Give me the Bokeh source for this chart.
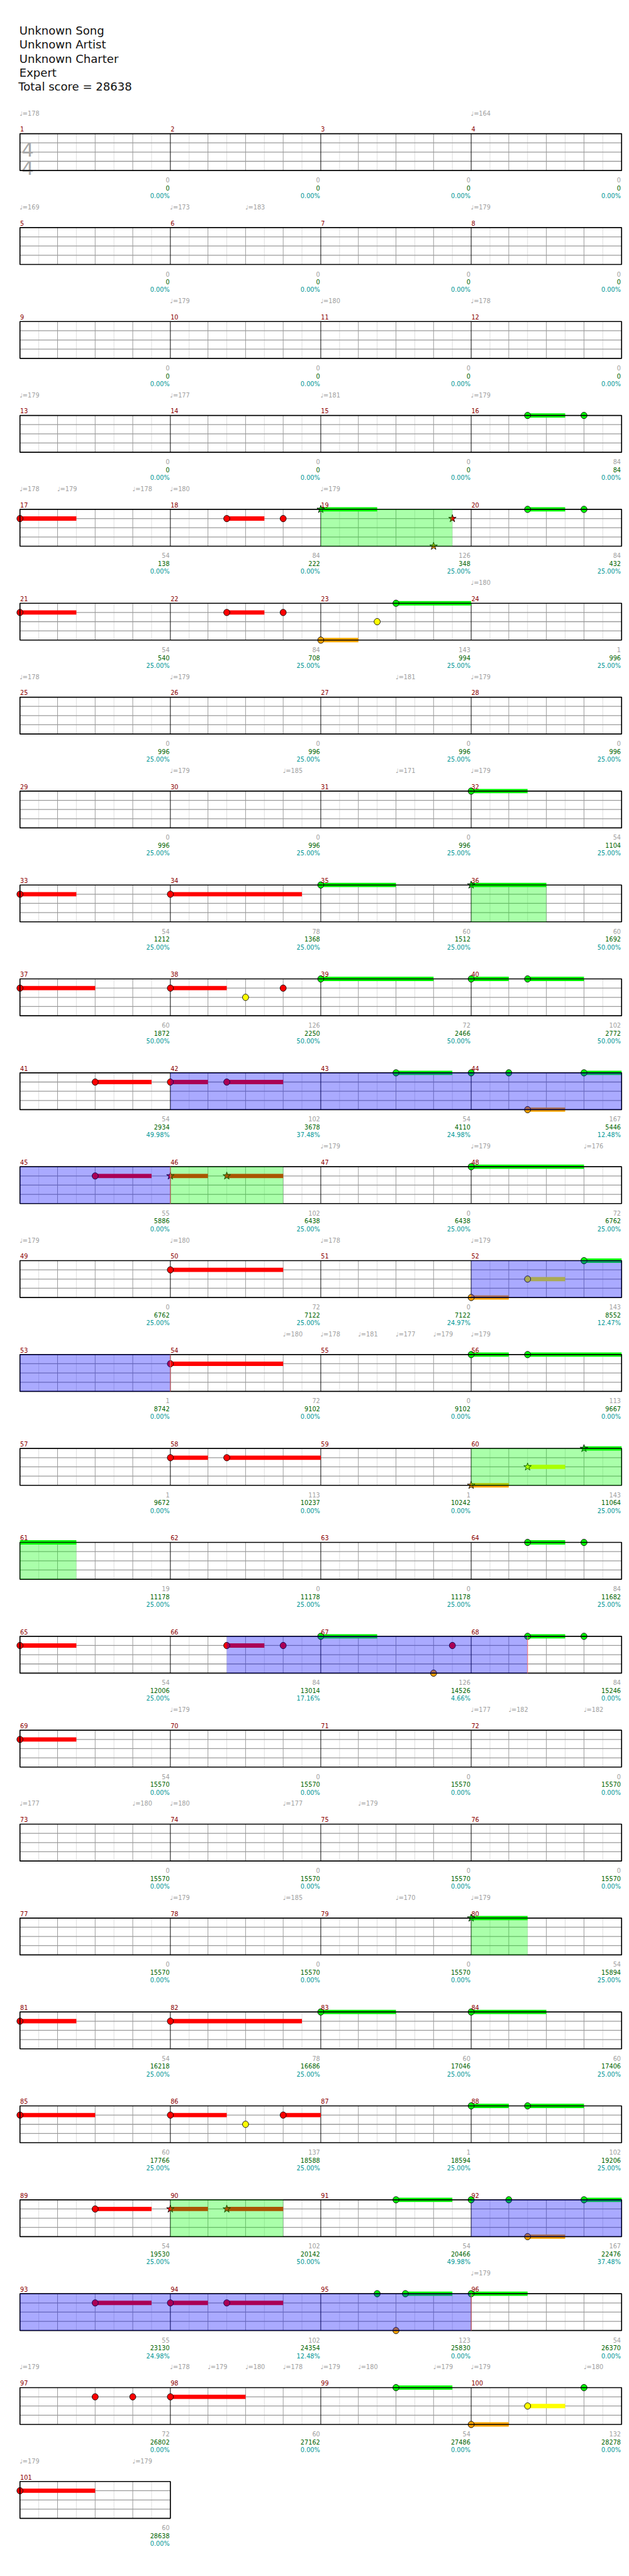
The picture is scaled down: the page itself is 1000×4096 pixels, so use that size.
import numpy as np
from bokeh.plotting import figure
from bokeh.models import ColumnDataSource, Range1d
from bokeh.core.properties import value
from bokeh.embed import file_html
from bokeh.resources import INLINE

S = 0.976  # scale factor vs. reference

# ---------------- data ----------------
title_lines = ["Unknown Song", "Unknown Artist", "Unknown Charter", "Expert",
               "Total score = 28638"]
n_measures = 101

measure_score = [
    0, 0, 0, 0,   0, 0, 0, 0,   0, 0, 0, 0,   0, 0, 0, 84,
    54, 84, 126, 84,   54, 84, 143, 1,   0, 0, 0, 0,   0, 0, 0, 54,
    54, 78, 60, 60,   60, 126, 72, 102,   54, 102, 54, 167,   55, 102, 0, 72,
    0, 72, 0, 143,   1, 72, 0, 113,   1, 113, 1, 143,   19, 0, 0, 84,
    54, 84, 126, 84,   54, 0, 0, 0,   0, 0, 0, 0,   0, 0, 0, 54,
    54, 78, 60, 60,   60, 137, 1, 102,   54, 102, 54, 167,   55, 102, 123, 54,
    72, 60, 54, 132,   60]

cumulative = [
    0, 0, 0, 0,   0, 0, 0, 0,   0, 0, 0, 0,   0, 0, 0, 84,
    138, 222, 348, 432,   540, 708, 994, 996,   996, 996, 996, 996,
    996, 996, 996, 1104,   1212, 1368, 1512, 1692,   1872, 2250, 2466, 2772,
    2934, 3678, 4110, 5446,   5886, 6438, 6438, 6762,   6762, 7122, 7122, 8552,
    8742, 9102, 9102, 9667,   9672, 10237, 10242, 11064,   11178, 11178, 11178, 11682,
    12006, 13014, 14526, 15246,   15570, 15570, 15570, 15570,
    15570, 15570, 15570, 15570,   15570, 15570, 15570, 15894,
    16218, 16686, 17046, 17406,   17766, 18588, 18594, 19206,
    19530, 20142, 20466, 22476,   23130, 24354, 25830, 26370,
    26802, 27162, 27486, 28278,   28638]

percent = [
    0, 0, 0, 0,   0, 0, 0, 0,   0, 0, 0, 0,   0, 0, 0, 0,
    0, 0, 25, 25,   25, 25, 25, 25,   25, 25, 25, 25,   25, 25, 25, 25,
    25, 25, 25, 50,   50, 50, 50, 50,   49.98, 37.48, 24.98, 12.48,
    0, 25, 25, 25,   25, 25, 24.97, 12.47,   0, 0, 0, 0,   0, 0, 0, 25,
    25, 25, 25, 25,   25, 17.16, 4.66, 0,   0, 0, 0, 0,   0, 0, 0, 0,
    0, 0, 0, 25,   25, 25, 25, 25,   25, 25, 25, 25,   25, 50, 49.98, 37.48,
    24.98, 12.48, 0, 0,   0, 0, 0, 0,   0]

# tempo markers: measure, eighth within measure, bpm
tempo_measure = [1, 4, 5, 6, 6, 8, 10, 11, 12, 13, 14, 15, 16,
                 17, 17, 17, 18, 19, 24, 25, 26, 27, 28, 30, 30, 31, 32,
                 47, 48, 48, 49, 50, 51, 52, 54, 55, 55, 55, 55, 56,
                 70, 72, 72, 72, 73, 73, 74, 74, 75, 78, 78, 79, 80, 96,
                 97, 98, 98, 98, 98, 99, 99, 99, 100, 100, 101, 101]
tempo_eighth = [0, 0, 0, 0, 4, 0, 0, 0, 0, 0, 0, 0, 0,
                0, 2, 6, 0, 0, 0, 0, 0, 4, 0, 0, 6, 4, 0,
                0, 0, 6, 0, 0, 0, 0, 6, 0, 2, 4, 6, 0,
                0, 0, 2, 6, 0, 6, 0, 6, 2, 0, 6, 4, 0, 0,
                0, 0, 2, 4, 6, 0, 2, 6, 0, 6, 0, 6]
tempo_bpm = [178, 164, 169, 173, 183, 179, 179, 180, 178, 179, 177, 181, 179,
             178, 179, 178, 180, 179, 180, 178, 179, 181, 179, 179, 185, 171, 179,
             179, 179, 176, 179, 180, 178, 179, 180, 178, 181, 177, 179, 179,
             179, 177, 182, 182, 177, 180, 180, 177, 179, 179, 185, 170, 179, 179,
             179, 178, 179, 180, 178, 179, 180, 179, 179, 180, 179, 179]

# notes: measure, eighth offset, lane (G R Y B O), sustain length (eighths), star note
note_measure = [16, 16, 17, 18, 18, 19, 19, 19, 20, 20,
                21, 22, 22, 23, 23, 23, 32, 33, 34, 35, 36,
                37, 38, 38, 38, 39, 40, 40, 41, 42, 42, 43, 44, 44, 44, 44,
                45, 46, 46, 48, 50, 52, 52, 52, 54, 56, 56, 58, 58, 60, 60, 60,
                64, 64, 65, 66, 66, 67, 67, 67, 68, 68, 69, 80,
                81, 82, 83, 84, 85, 86, 86, 86, 88, 88,
                89, 90, 90, 91, 92, 92, 92, 92, 93, 94, 94, 95, 95, 95, 96,
                97, 97, 98, 99, 100, 100, 100, 101]
note_eighth = [3, 6, 0, 3, 6, 0, 7, 6, 3, 6,
               0, 3, 6, 0, 3, 4, 0, 0, 0, 0, 0,
               0, 0, 4, 6, 0, 0, 3, 4, 0, 3, 4, 0, 2, 3, 6,
               4, 0, 3, 0, 0, 0, 3, 6, 0, 0, 3, 0, 3, 0, 3, 6,
               3, 6, 0, 3, 6, 0, 7, 6, 3, 6, 0, 0,
               0, 0, 0, 0, 0, 0, 4, 6, 0, 3,
               4, 0, 3, 4, 0, 2, 3, 6, 4, 0, 3, 3, 4.5, 4, 0,
               4, 6, 0, 4, 0, 3, 6, 0]
note_lane = ["G", "G", "R", "R", "R", "G", "R", "O", "G", "G",
             "R", "R", "R", "O", "Y", "G", "G", "R", "R", "G", "G",
             "R", "R", "Y", "R", "G", "G", "G", "R", "R", "R", "G", "G", "G", "O", "G",
             "R", "R", "R", "G", "R", "O", "Y", "G", "R", "G", "G", "R", "R", "O", "Y", "G",
             "G", "G", "R", "R", "R", "G", "R", "O", "G", "G", "R", "G",
             "R", "R", "G", "G", "R", "R", "Y", "R", "G", "G",
             "R", "R", "R", "G", "G", "G", "O", "G", "R", "R", "R", "G", "G", "O", "G",
             "R", "R", "R", "G", "O", "Y", "G", "R"]
note_len = [2, 0, 3, 2, 0, 3, 0, 0, 2, 0,
            3, 2, 0, 2, 0, 4, 3, 3, 7, 4, 4,
            4, 3, 0, 0, 6, 2, 3, 3, 2, 3, 3, 0, 0, 2, 2,
            3, 2, 3, 6, 6, 2, 2, 2, 6, 2, 5, 2, 5, 2, 2, 5,
            2, 0, 3, 2, 0, 3, 0, 0, 2, 0, 3, 3,
            3, 7, 4, 4, 4, 3, 0, 2, 2, 3,
            3, 2, 3, 3, 0, 0, 2, 2, 3, 2, 3, 0, 2.5, 0, 3,
            0, 0, 4, 3, 2, 2, 0, 4]
note_star = [0, 0, 0, 0, 0, 1, 1, 1, 0, 0,
             0, 0, 0, 0, 0, 0, 0, 0, 0, 0, 1,
             0, 0, 0, 0, 0, 0, 0, 0, 0, 0, 0, 0, 0, 0, 0,
             0, 1, 1, 0, 0, 0, 0, 0, 0, 0, 0, 0, 0, 1, 1, 1,
             0, 0, 0, 0, 0, 0, 0, 0, 0, 0, 0, 1,
             0, 0, 0, 0, 0, 0, 0, 0, 0, 0,
             0, 1, 1, 0, 0, 0, 0, 0, 0, 0, 0, 0, 0, 0, 0,
             0, 0, 0, 0, 0, 0, 0, 0]

# star power phrases (green) and activations (blue): start measure, start eighth, end measure, end eighth
sp_phrase_start = [(19, 0), (36, 0), (46, 0), (60, 0), (80, 0), (90, 0)]
sp_phrase_end = [(19, 7), (36, 4), (46, 6), (61, 3), (80, 3), (90, 6)]
sp_active_start = [(42, 0), (52, 0), (66, 3), (92, 0)]
sp_active_end = [(46, 0), (54, 0), (68, 3), (96, 0)]

lane_names = ["G", "R", "Y", "B", "O"]
lane_colors = {"G": "#00ff00", "R": "#ff0000", "Y": "#ffff00",
               "B": "#0000ff", "O": "#ffa500"}

# ---------------- layout (reference px) ----------------
X0 = 32.0
MEAS_W = 245.0
EW = MEAS_W / 8.0
PER_ROW = 4
TOP0 = 217.3
ROW_H = 153.0
LANE = 15.0
STAFF_H = 4 * LANE
n_rows = (n_measures + PER_ROW - 1) // PER_ROW
ROW_E = 8 * PER_ROW


def abs_e(m, e):
    return (m - 1) * 8 + e


def row_top(r):
    return TOP0 + r * ROW_H


def xpos(a):
    r = int(a // ROW_E)
    return r, X0 + (a - r * ROW_E) * EW


def segments(a, b):
    out = []
    while a < b - 1e-9:
        r = int(a // ROW_E)
        end = min(b, (r + 1) * ROW_E)
        out.append((r, X0 + (a - r * ROW_E) * EW, X0 + (end - r * ROW_E) * EW))
        a = end
    return out


W_PX, H_PX = 992, 4088
p = figure(width=W_PX, height=H_PX, output_backend="svg", toolbar_location=None,
           x_range=Range1d(0, W_PX / S),
           y_range=Range1d(H_PX / S, 0),
           x_axis_location=None, y_axis_location=None, min_border=0)
p.grid.visible = False
p.outline_line_color = None
p.background_fill_color = "white"
p.border_fill_color = "white"

FONT = value("DejaVu Sans")

# ---- title ----
p.text(x=[31, 31, 31, 31, 29.5], y=[49.3 + 22.85 * i for i in range(5)], text=title_lines,
       text_font=FONT, text_font_size=value(f"{18.5 * S:.2f}px"), text_color="#111111",
       text_baseline="alphabetic", text_align="left")

# ---- grid ----
light = dict(x0=[], y0=[], x1=[], y1=[])
quarter = dict(x0=[], y0=[], x1=[], y1=[])
mline = dict(x0=[], y0=[], x1=[], y1=[])
lanes = dict(x0=[], y0=[], x1=[], y1=[])
border = dict(left=[], right=[], top=[], bottom=[])
for r in range(n_rows):
    nm = min(PER_ROW, n_measures - r * PER_ROW)
    top = row_top(r)
    bot = top + STAFF_H
    right = X0 + nm * MEAS_W
    for k in range(1, nm * 8):
        x = X0 + k * EW
        d = light if k % 2 == 1 else (mline if k % 8 == 0 else quarter)
        d["x0"].append(x); d["x1"].append(x); d["y0"].append(top); d["y1"].append(bot)
    for j in range(1, 4):
        y = top + j * LANE
        lanes["x0"].append(X0); lanes["x1"].append(right)
        lanes["y0"].append(y); lanes["y1"].append(y)
    border["left"].append(X0); border["right"].append(right)
    border["top"].append(top); border["bottom"].append(bot)

p.segment(source=ColumnDataSource(light), x0="x0", y0="y0", x1="x1", y1="y1",
          line_color="#dddddd", line_width=1 * S)
p.segment(source=ColumnDataSource(quarter), x0="x0", y0="y0", x1="x1", y1="y1",
          line_color="#9a9a9a", line_width=1 * S)
p.segment(source=ColumnDataSource(lanes), x0="x0", y0="y0", x1="x1", y1="y1",
          line_color="#9a9a9a", line_width=1.3 * S)
p.segment(source=ColumnDataSource(mline), x0="x0", y0="y0", x1="x1", y1="y1",
          line_color="#000000", line_width=1 * S)

# ---- time signature ----
p.text(x=[44.7, 44.7], y=[row_top(0) + 26.2, row_top(0) + 56.2], text=["4", "4"],
       text_font=FONT, text_font_size=value(f"{31 * S:.2f}px"), text_color="#a8a8a8",
       text_baseline="alphabetic", text_align="center")

# ---- sustains ----
sus = dict(left=[], right=[], top=[], bottom=[], color=[])
heads = dict(x=[], y=[], color=[])
stars = dict(x=[], y=[], color=[])
for m, e, ln, L, st in zip(note_measure, note_eighth, note_lane, note_len, note_star):
    a = abs_e(m, e)
    li = lane_names.index(ln)
    for r, xl, xr in segments(a, a + L):
        yc = row_top(r) + li * LANE
        sus["left"].append(xl); sus["right"].append(xr)
        sus["top"].append(yc - 3.5); sus["bottom"].append(yc + 3.5)
        sus["color"].append(lane_colors[ln])
    r, x = xpos(a)
    y = row_top(r) + li * LANE
    d = stars if st else heads
    d["x"].append(x); d["y"].append(y); d["color"].append(lane_colors[ln])

p.quad(source=ColumnDataSource(sus), left="left", right="right", top="top", bottom="bottom",
       fill_color="color", line_color=None)
p.ellipse(source=ColumnDataSource(heads), x="x", y="y", width=10, height=10.5,
          fill_color="color", line_color="#000000", line_width=0.9 * S)
p.scatter(source=ColumnDataSource(stars), x="x", y="y", marker="star", size=13 * S,
          fill_color="color", line_color="#000000", line_width=0.9 * S)

# ---- staff border ----
p.quad(source=ColumnDataSource(border), left="left", right="right", top="top", bottom="bottom",
       fill_color=None, line_color="#000000", line_width=1.7 * S)

# ---- star power overlays ----
def region_quads(starts, ends):
    d = dict(left=[], right=[], top=[], bottom=[])
    for (m0, e0), (m1, e1) in zip(starts, ends):
        for r, xl, xr in segments(abs_e(m0, e0), abs_e(m1, e1)):
            d["left"].append(xl); d["right"].append(xr)
            d["top"].append(row_top(r)); d["bottom"].append(row_top(r) + STAFF_H)
    return d

p.quad(source=ColumnDataSource(region_quads(sp_phrase_start, sp_phrase_end)),
       left="left", right="right", top="top", bottom="bottom",
       fill_color="#00ff00", fill_alpha=0.333, line_color=None)
p.quad(source=ColumnDataSource(region_quads(sp_active_start, sp_active_end)),
       left="left", right="right", top="top", bottom="bottom",
       fill_color="#0000ff", fill_alpha=0.333, line_color=None)
endl = dict(x0=[], y0=[], x1=[], y1=[])
for (m1, e1) in sp_active_end:
    a = abs_e(m1, e1)
    r = int((a - 1e-9) // ROW_E)
    x = X0 + (a - r * ROW_E) * EW
    endl["x0"].append(x); endl["x1"].append(x)
    endl["y0"].append(row_top(r)); endl["y1"].append(row_top(r) + STAFF_H)
p.segment(source=ColumnDataSource(endl), x0="x0", y0="y0", x1="x1", y1="y1",
          line_color="#ff7070", line_width=1 * S)

# ---- measure numbers and scores ----
mx, my, mt = [], [], []
sx, sy1, sy2, sy3, st1, st2, st3 = [], [], [], [], [], [], []
for i in range(n_measures):
    r = i // PER_ROW
    c = i % PER_ROW
    top = row_top(r)
    mx.append(X0 + c * MEAS_W + 0.3); my.append(top - 7.3); mt.append(str(i + 1))
    xe = X0 + (c + 1) * MEAS_W - 1.2
    bot = top + STAFF_H
    sx.append(xe)
    sy1.append(bot + 15.4); sy2.append(bot + 28.4); sy3.append(bot + 41.4)
    st1.append(str(measure_score[i])); st2.append(str(cumulative[i]))
    st3.append(f"{percent[i]:.2f}%")

small = value(f"{10 * S:.2f}px")
p.text(x=mx, y=my, text=mt, text_font=FONT, text_font_size=small, text_color="#8b0000",
       text_baseline="alphabetic", text_align="left")
p.text(x=sx, y=sy1, text=st1, text_font=FONT, text_font_size=small, text_color="#a0a0a0",
       text_baseline="alphabetic", text_align="right")
p.text(x=sx, y=sy2, text=st2, text_font=FONT, text_font_size=small, text_color="#006400",
       text_baseline="alphabetic", text_align="right")
p.text(x=sx, y=sy3, text=st3, text_font=FONT, text_font_size=small, text_color="#009696",
       text_baseline="alphabetic", text_align="right")

# ---- tempo markers ----
tx, ty, tt = [], [], []
for m, e, b in zip(tempo_measure, tempo_eighth, tempo_bpm):
    r, x = xpos(abs_e(m, e))
    tx.append(x - 0.5); ty.append(row_top(r) - 33.3); tt.append(f"\u2669={b}")
p.text(x=tx, y=ty, text=tt, text_font=FONT, text_font_size=small, text_color="#a0a0a0",
       text_baseline="alphabetic", text_align="left")

open("out.html", "w").write(file_html(p, INLINE))
